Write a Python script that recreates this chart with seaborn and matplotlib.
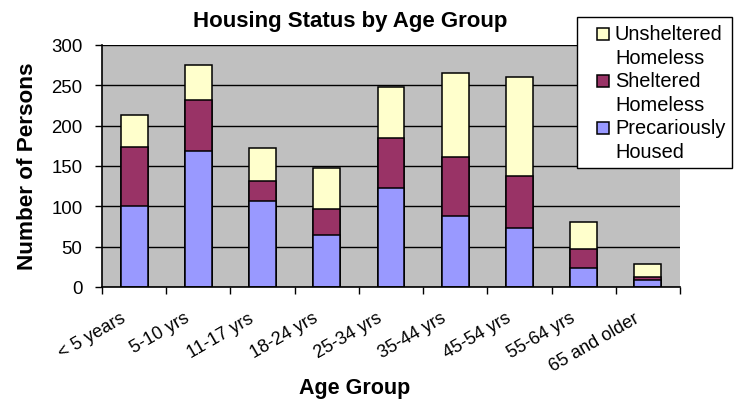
import pandas as pd
import numpy as np
import seaborn as sns
import matplotlib.pyplot as plt
import matplotlib.patches as mpatches
from matplotlib.container import BarContainer
from matplotlib.legend_handler import HandlerPatch, update_from_first_child
from matplotlib.ticker import FixedLocator
from matplotlib.transforms import ScaledTranslation

age_groups = ["< 5 years", "5-10 yrs", "11-17 yrs", "18-24 yrs", "25-34 yrs",
              "35-44 yrs", "45-54 yrs", "55-64 yrs", "65 and older"]
precarious = [101, 168, 106, 65, 123, 88, 73, 24, 9]
sheltered = [73, 64, 26, 32, 62, 73, 65, 23, 4]
unsheltered = [39, 43, 40, 51, 63, 104, 122, 34, 15]

df = pd.DataFrame({"age": age_groups, "prec": precarious,
                   "shel": sheltered, "unsh": unsheltered})
df["upto_shel"] = df["prec"] + df["shel"]
df["total"] = df["upto_shel"] + df["unsh"]

sns.set_style("white")
plt.rcParams['font.family'] = ['Liberation Sans', 'DejaVu Sans']
plt.rcParams['text.color'] = 'black'
plt.rcParams['axes.labelcolor'] = 'black'
plt.rcParams['xtick.color'] = 'black'
plt.rcParams['ytick.color'] = 'black'

fig = plt.figure(figsize=(7.45, 4.02), dpi=100)
ax = fig.add_axes([102/745, 1-288/402, (680-102)/745, (288-46)/402])
ax.set_facecolor('#C0C0C0')

# stacked look: draw totals first, then overlay the lower parts
bar_kw = dict(x="age", order=age_groups, width=0.42, edgecolor='black',
              linewidth=1.1, errorbar=None, ax=ax, zorder=3)
sns.barplot(data=df, y="total", color='#FFFFCC', saturation=1,
            label="Unsheltered\nHomeless", **bar_kw)
sns.barplot(data=df, y="upto_shel", color='#993366', saturation=1,
            label="Sheltered\nHomeless", **bar_kw)
sns.barplot(data=df, y="prec", color='#9999FF', saturation=1,
            label="Precariously\nHoused", **bar_kw)

ax.set_ylim(0, 300)
ax.set_xlim(-0.5, len(age_groups) - 0.5)
ax.set_yticks(range(0, 301, 50))
ax.yaxis.grid(True, color='black', linewidth=1, zorder=1)
ax.set_axisbelow(True)
for s in ['top', 'right']:
    ax.spines[s].set_visible(False)
for s in ['left', 'bottom']:
    ax.spines[s].set_color('black')
    ax.spines[s].set_linewidth(1.2)
    ax.spines[s].set_zorder(4)

ax.tick_params(axis='y', direction='out', length=5, width=1, color='black',
               labelsize=13.4, pad=9, left=True)
ax.tick_params(axis='x', which='major', length=0, labelsize=13, pad=16)
ax.xaxis.set_minor_locator(FixedLocator(np.arange(-0.5, len(age_groups), 1)))
ax.tick_params(axis='x', which='minor', direction='out', length=5, width=1,
               color='black', bottom=True)
shift = ScaledTranslation(-6/100, 0, fig.dpi_scale_trans)
for lbl in ax.get_xticklabels():
    lbl.set_rotation(30)
    lbl.set_ha('right')
    lbl.set_va('top')
    lbl.set_transform(lbl.get_transform() + shift)

ax.set_xlabel("")
ax.set_ylabel("")
fig.text(28/745, 1-166/402, "Number of Persons", rotation=90, ha='center',
         va='center', fontsize=16.2, fontweight='bold')
fig.text(355/745, 1-389/402, "Age Group", ha='center', va='center',
         fontsize=15.5, fontweight='bold')
fig.text(350/745, 1-22/402, "Housing Status by Age Group", ha='center',
         va='center', fontsize=16, fontweight='bold')


def square_marker(legend, orig_handle, xdescent, ydescent, width, height, fontsize):
    # small square on the first line of the label, like the spreadsheet legend
    s = 0.6 * fontsize
    return mpatches.Rectangle((width - xdescent - s, -ydescent + height / 2 - s / 2 + 0.6 * fontsize), s, s)


handles, labels = ax.get_legend_handles_labels()
leg = fig.legend(handles, labels, loc='upper left', bbox_to_anchor=(577/745, 1-18/402),
                 frameon=True, fancybox=False, edgecolor='black', framealpha=1,
                 fontsize=14.4, handlelength=1.25, handleheight=0.6, handletextpad=0.3,
                 labelspacing=0.2, borderpad=0.35, borderaxespad=0,
                 handler_map={BarContainer: HandlerPatch(patch_func=square_marker,
                                                         update_func=update_from_first_child)})
leg.get_frame().set_linewidth(1)
for t in leg.get_texts():
    t.set_linespacing(1.33)
if ax.get_legend() is not None:
    ax.get_legend().remove()

fig.savefig("out.png", dpi=100)
